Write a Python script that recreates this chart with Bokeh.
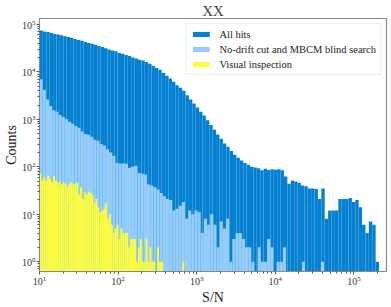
import numpy as np
from bokeh.plotting import figure
from bokeh.models import FixedTicker
from bokeh.embed import file_html
from bokeh.resources import INLINE

# histogram counts, log10 range of each histogram's bins
all_hits = [74000, 71000, 69000, 66000, 63000, 61500, 59000, 56000, 54000, 51500,
            49000, 47000, 45000, 42500, 40500, 39000, 37000, 35000, 33500, 31500,
            29500, 28000, 27000, 25000, 24000, 22500, 21500, 20000, 19000, 18000,
            17400, 16200, 14800, 13200, 12000, 11000, 9500, 8300, 7200, 6200,
            5200, 4600, 4000, 3200, 2600, 2150, 1780, 1450, 1200, 950,
            760, 600, 480, 390, 310, 265, 215, 178, 155, 135,
            120, 110, 100, 96, 93, 84, 91, 85, 89, 86,
            88, 84, 62, 44, 51, 49, 46, 40, 39, 35,
            35, 34, 21, 35, 8, 12, 12, 12, 21, 21,
            21, 22, 18, 20, 14, 6, 4, 7, 6, 1]
all_hits_range = (1.0, 5.32)

no_drift = [7000, 4200, 2600, 1900, 1550, 1450, 1230, 1120, 1000, 890,
            810, 720, 660, 550, 490, 470, 430, 370, 355, 300,
            280, 235, 200, 170, 120, 117, 118, 115, 95, 100,
            105, 74, 71, 69, 42, 40, 37, 33, 28, 24,
            21, 20, 12, 13, 15, 18, 8, 12, 10, 12,
            11, 4, 8, 6, 10, 6, 2, 7, 5, 8,
            1, 3, 4, 4, 3, 2, 2, 1, 0, 2,
            1, 1, 3, 2, 0, 1, 1, 2, 0, 0,
            0, 0, 0, 1, 0, 0, 0, 0, 0, 1]
no_drift_range = (1.0, 4.62)

visual = [71, 51, 60, 51, 65, 55, 47, 64, 51, 46,
          49, 42, 46, 44, 37, 42, 47, 42, 44, 46,
          26, 37, 21, 29, 26, 30, 28, 25, 17, 21,
          14, 11, 12, 13, 17, 8, 10, 6, 4, 5,
          6, 3, 5, 4, 4, 4, 2, 3, 3, 3,
          1, 2, 3, 1, 1, 3, 1, 2, 1, 1,
          0, 2, 1, 1, 0, 0, 0, 0, 0, 0,
          0, 0, 0, 0, 1]
visual_range = (1.0, 2.84)

labels = ["All hits", "No-drift cut and MBCM blind search", "Visual inspection"]
colors = ["#0580d0", "#96cdfa", "#fdfd3c"]

FONT = "Liberation Serif"

p = figure(width=391, height=307, x_axis_type="log", y_axis_type="log",
           x_range=(10, 2.6e5), y_range=(0.62, 1.33e5),
           output_backend="svg", toolbar_location=None, title="XX",
           min_border_left=0, min_border_right=5, min_border_top=0, min_border_bottom=0)

for counts, rng, lab, col in zip([all_hits, no_drift, visual],
                                 [all_hits_range, no_drift_range, visual_range],
                                 labels, colors):
    c = np.array(counts, dtype=float)
    edges = 10 ** np.linspace(rng[0], rng[1], len(c) + 1)
    m = c > 0
    p.quad(left=edges[:-1][m], right=edges[1:][m], bottom=0.01, top=c[m],
           fill_color=col, line_color=None, legend_label=lab)

p.title.align = "center"
p.title.text_font = FONT
p.title.text_font_size = "15px"
p.title.text_font_style = "normal"
p.title.text_line_height = 0.9
p.title.standoff = 0
p.title.offset = 0

p.xgrid.visible = False
p.ygrid.visible = False
p.outline_line_color = "#8a8a8a"
p.outline_line_width = 1.2

p.xaxis.axis_label = "S/N"
p.yaxis.axis_label = "Counts"
p.xaxis.ticker = FixedTicker(ticks=[1e1, 1e2, 1e3, 1e4, 1e5],
                             minor_ticks=[m * 10.0 ** e for e in range(1, 6) for m in range(2, 10)])
p.yaxis.ticker = FixedTicker(ticks=[1e0, 1e1, 1e2, 1e3, 1e4, 1e5],
                             minor_ticks=[m * 10.0 ** e for e in range(-1, 6) for m in range(2, 10)])
for ax in [p.xaxis[0], p.yaxis[0]]:
    ax.axis_label_text_font = FONT
    ax.axis_label_text_font_size = "14px"
    ax.axis_label_text_font_style = "normal"
    ax.axis_label_text_color = "#222222"
    ax.axis_label_text_line_height = 1.0
    ax.axis_label_standoff = 0
    ax.major_label_text_font = FONT
    ax.major_label_text_font_size = "10px"
    ax.major_label_text_color = "#333333"
    ax.major_label_standoff = 1
    ax.axis_line_color = "#8a8a8a"
    ax.major_tick_line_color = "#555555"
    ax.minor_tick_line_color = "#555555"
    ax.major_tick_out = 3
    ax.major_tick_in = 0
    ax.minor_tick_out = 2
    ax.minor_tick_in = 0
p.xaxis[0].axis_label_standoff = 2

lg = p.legend[0]
lg.location = "top_right"
lg.margin = 5
lg.padding = 4
lg.spacing = 3
lg.label_height = 12
lg.glyph_height = 6
lg.glyph_width = 21
lg.label_standoff = 8
lg.label_text_font = FONT
lg.label_text_font_size = "10.5px"
lg.label_text_color = "#222222"
lg.border_line_color = "#dddddd"
lg.background_fill_alpha = 0.85

open("out.html", "w").write(file_html(p, INLINE))
